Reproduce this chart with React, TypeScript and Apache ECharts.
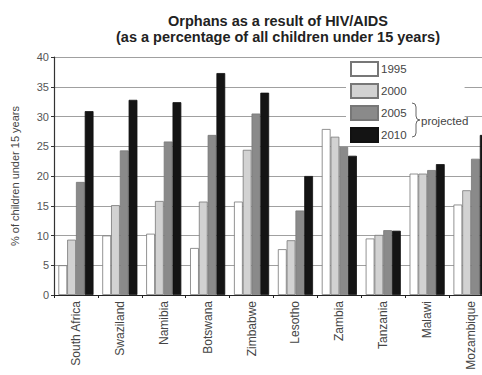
import React, { useEffect, useRef } from "react";
import * as echarts from "echarts";

const categories = ["South Africa", "Swaziland", "Namibia", "Botswana", "Zimbabwe", "Lesotho", "Zambia", "Tanzania", "Malawi", "Mozambique"];
const years = ["1995", "2000", "2005", "2010"];
const v1995 = [5, 10, 10.3, 7.9, 15.7, 7.7, 27.9, 9.5, 20.4, 15.2];
const v2000 = [9.3, 15.1, 15.8, 15.7, 24.4, 9.2, 26.6, 10.1, 20.4, 17.6];
const v2005 = [19, 24.3, 25.8, 26.9, 30.5, 14.2, 24.9, 10.9, 21, 22.9];
const v2010 = [30.9, 32.8, 32.4, 37.3, 34, 20, 23.4, 10.8, 22, 26.9];
const yTicks = [0, 5, 10, 15, 20, 25, 30, 35, 40];

const colors = ["#ffffff", "#d2d2d2", "#8a8a8a", "#141414"];
const FONT = "Liberation Sans, Arial, sans-serif";

echarts.graphic.registerShape(
  "brace",
  echarts.graphic.extendPath("M0,0 Q4,0 4,4 L4,13 Q4,17 8,17 Q4,17 4,21 L4,30 Q4,34 0,34", {})
);

export default function App() {
  const ref = useRef<HTMLDivElement>(null);
  useEffect(() => {
    if (!ref.current) return;
    const chart = echarts.init(ref.current, null, { renderer: "svg" });
    const values = [v1995, v2000, v2005, v2010];
    chart.setOption({
      animation: false,
      backgroundColor: "#ffffff",
      textStyle: { fontFamily: FONT },
      title: {
        text: "Orphans as a result of HIV/AIDS\n(as a percentage of all children under 15 years)",
        left: 273,
        textAlign: "center",
        top: 8,
        textStyle: { fontSize: 14.5, fontWeight: "bold", color: "#222", lineHeight: 16, fontFamily: FONT },
      },
      legend: {
        orient: "vertical",
        left: 346,
        top: 58,
        data: years,
        itemWidth: 27,
        itemHeight: 14,
        itemGap: 6,
        padding: [3, 58, 3, 4],
        backgroundColor: "#ffffff",
        textStyle: { fontSize: 11.5, color: "#444", padding: [0, 0, 0, -2] },
        icon: "rect",
      },
      grid: { left: 54, width: 439, top: 57, bottom: 80, outerBoundsMode: "none", containLabel: false },
      xAxis: {
        type: "category",
        data: categories,
        axisLine: { show: true, lineStyle: { color: "#222", width: 1 } },
        axisTick: { show: true, length: 3, lineStyle: { color: "#222" } },
        axisLabel: { rotate: 90, fontSize: 12, color: "#444", margin: 6, interval: 0 },
      },
      yAxis: {
        type: "value",
        min: 0,
        max: 40,
        interval: 5,
        name: "% of children under 15 years",
        nameLocation: "middle",
        nameGap: 34,
        nameTextStyle: { fontSize: 11, color: "#444" },
        axisLine: { show: true, lineStyle: { color: "#333", width: 1.2 } },
        axisTick: { show: true, length: 3, lineStyle: { color: "#333" } },
        axisLabel: { fontSize: 11, color: "#555", margin: 5, formatter: (v: number) => (yTicks.includes(v) ? String(v) : "") },
        splitLine: { show: true, lineStyle: { color: "#a0a0a0", width: 1 } },
      },
      series: years.map((y, i) => ({
        name: y,
        type: "bar",
        data: values[i],
        barGap: "0%",
        barCategoryGap: "20%",
        itemStyle: { color: colors[i], borderColor: i === 3 ? "#111" : "#777", borderWidth: 0.8 },
      })),
      graphic: [
        {
          type: "brace",
          x: 412,
          y: 103,
          style: { fill: "none", stroke: "#666", lineWidth: 1 },
          z: 100,
        },
        {
          type: "text",
          x: 421,
          y: 121,
          style: { text: "projected", fontSize: 11.5, fill: "#444", textVerticalAlign: "middle", fontFamily: FONT },
          z: 100,
        },
      ],
    });
    return () => chart.dispose();
  }, []);
  return <div ref={ref} style={{ width: 482, height: 375, position: "absolute", left: 0, top: 0 }} />;
}
